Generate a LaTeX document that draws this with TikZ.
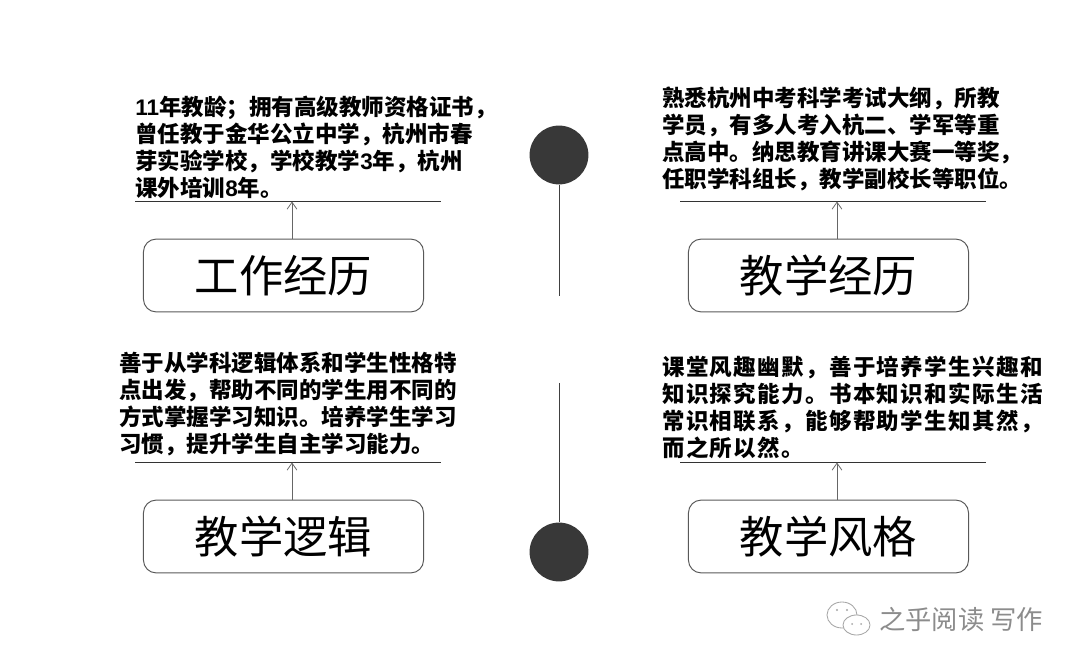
\documentclass[tikz,border=0pt]{standalone}
\usepackage{fontspec}
\setmainfont{Liberation Sans}
\newfontfamily\cjk{Noto Sans CJK SC}
\newfontfamily\cjkwide[LetterSpace=6]{Noto Sans CJK SC}
\newcommand{\latinnum}[1]{{\normalfont\bfseries #1}}
\usetikzlibrary{positioning,arrows.meta}

\tikzset{
    titlebox/.style={draw=black!65, line width=0.7pt, rounded corners=9pt, minimum width=7cm, minimum height=1.82cm, inner sep=0pt, font=\cjk\fontsize{31.5}{34}\selectfont},
    notetext/.style={anchor=north west, inner sep=0pt, align=left, font=\cjk\bfseries\fontsize{16}{19.2}\selectfont},
    notewide/.style={anchor=north west, inner sep=0pt, align=left, font=\cjkwide\bfseries\fontsize{16}{19.2}\selectfont},
    rule/.style={draw=black!80, line width=0.55pt},
    riseline/.style={draw=black!60, line width=0.55pt, -{Straight Barb[length=5pt,width=7pt]}},
    dot/.style={circle, fill=black!78, minimum size=1.47cm, inner sep=0pt},
    stem/.style={draw=black!75, line width=0.55pt},
    markbubble/.style={draw=black!35, fill=white, line width=0.6pt}
}

\begin{document}
\begin{tikzpicture}[x=0.025cm, y=-0.025cm]
    \useasboundingbox (0,0) rectangle (1080,668);

    % Centre line
    \node[dot] (dotTop) at (559,155) {};
    \node[dot] (dotBottom) at (559,552) {};
    \coordinate (stemTop) at (559,296);
    \coordinate (stemBottom) at (559,383);
    \draw[stem] (dotTop) -- (stemTop);
    \draw[stem] (stemBottom) -- (dotBottom);

    % Boxes
    \node[titlebox] (boxWork) at (283.5,275.5) {工作经历};
    \node[titlebox] (boxTeach) at (828.5,275.5) {教学经历};
    \node[titlebox] (boxLogic) at (283.5,536.5) {教学逻辑};
    \node[titlebox] (boxStyle) at (828.5,536.5) {教学风格};

    % Notes
    \node[notetext] (noteWork) at (135,96) {\latinnum{11}年教龄；拥有高级教师资格证书，\\曾任教于金华公立中学，杭州市春\\芽实验学校，学校教学\latinnum{3}年，杭州\\课外培训\latinnum{8}年。};
    \node[notetext] (noteTeach) at (662,87) {熟悉杭州中考科学考试大纲，所教\\学员，有多人考入杭二、学军等重\\点高中。纳思教育讲课大赛一等奖，\\任职学科组长，教学副校长等职位。};
    \node[notetext] (noteLogic) at (119,351.5) {善于从学科逻辑体系和学生性格特\\点出发，帮助不同的学生用不同的\\方式掌握学习知识。培养学生学习\\习惯，提升学生自主学习能力。};
    \node[notewide] (noteStyle) at (662,355.5) {课堂风趣幽默，善于培养学生兴趣和\\知识探究能力。书本知识和实际生活\\常识相联系，能够帮助学生知其然，\\而之所以然。};

    % Rules
    \coordinate (ruleWorkL) at (135,201);
    \coordinate (ruleWorkR) at (441,201);
    \coordinate (ruleTeachL) at (680,201);
    \coordinate (ruleTeachR) at (986,201);
    \coordinate (ruleLogicL) at (135,462);
    \coordinate (ruleLogicR) at (441,462);
    \coordinate (ruleStyleL) at (680,462);
    \coordinate (ruleStyleR) at (986,462);
    \draw[rule] (ruleWorkL) -- (ruleWorkR);
    \draw[rule] (ruleTeachL) -- (ruleTeachR);
    \draw[rule] (ruleLogicL) -- (ruleLogicR);
    \draw[rule] (ruleStyleL) -- (ruleStyleR);

    % Arrows
    \coordinate (headWork) at (292,201.5);
    \coordinate (headTeach) at (837,201.5);
    \coordinate (headLogic) at (292,462.5);
    \coordinate (headStyle) at (837,462.5);
    \draw[riseline] (boxWork.north -| headWork) -- (headWork);
    \draw[riseline] (boxTeach.north -| headTeach) -- (headTeach);
    \draw[riseline] (boxLogic.north -| headLogic) -- (headLogic);
    \draw[riseline] (boxStyle.north -| headStyle) -- (headStyle);

    % Mark
    \draw[markbubble] (842,615) ellipse (15 and 13);
    \draw[markbubble] (856.5,625) ellipse (13.5 and 10);
    \fill[black!35] (837,610) circle (1.2) (847,610) circle (1.2) (852,624) circle (1) (861,624) circle (1);
    \node[anchor=west, inner sep=0pt, text=black!45, font=\cjk\fontsize{18.7}{21}\selectfont] (markText) at (879,620) {之乎阅读 写作};
\end{tikzpicture}
\end{document}
